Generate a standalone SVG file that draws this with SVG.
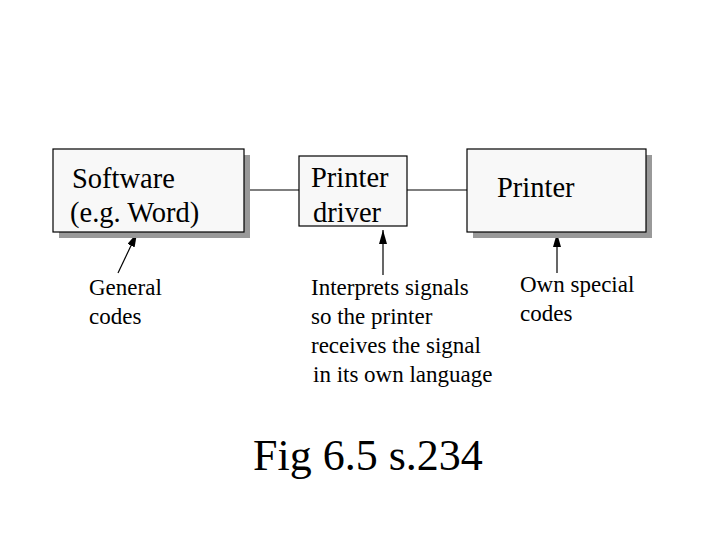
<svg xmlns="http://www.w3.org/2000/svg" width="720" height="540" viewBox="0 0 720 540">
<style>
.box{fill:#f8f8f8;stroke:#000;stroke-width:1.2}
.shadow{fill:#999}
.t{font-family:"Liberation Serif","Times New Roman",serif;fill:#000}
.big{font-size:28.5px}
.lab{font-size:23px}
.line{stroke:#000;stroke-width:1.2;fill:none}
</style>
<defs>
<marker id="ah" viewBox="0 0 14 8" refX="14" refY="4" markerWidth="14" markerHeight="8" markerUnits="userSpaceOnUse" orient="auto">
<path d="M0,0 L14,4 L0,8 Z" fill="#000"/>
</marker>
</defs>
<rect width="720" height="540" fill="#fff"/>
<g id="connectors">
<line class="line" x1="244" y1="190" x2="299" y2="190"/>
<line class="line" x1="407" y1="190" x2="467" y2="190"/>
<line class="line" x1="118" y1="273" x2="137" y2="233" marker-end="url(#ah)"/>
<line class="line" x1="383" y1="275" x2="383" y2="230" marker-end="url(#ah)"/>
<line class="line" x1="557" y1="273" x2="557" y2="233" marker-end="url(#ah)"/>
</g>
<g id="software">
<rect class="shadow" x="59" y="155" width="191" height="83"/>
<rect class="box" x="53" y="149" width="191" height="83"/>
<text class="t big" x="72" y="188">Software</text>
<text class="t big" x="70" y="222">(e.g. Word)</text>
</g>
<g id="driver">
<rect class="box" x="299" y="156" width="108" height="70"/>
<text class="t big" x="311" y="187">Printer</text>
<text class="t big" x="313" y="222">driver</text>
</g>
<g id="printer">
<rect class="shadow" x="473" y="155" width="179" height="83"/>
<rect class="box" x="467" y="149" width="179" height="83"/>
<text class="t big" x="497" y="197">Printer</text>
</g>
<g id="general">
<text class="t lab" x="89" y="295">General</text>
<text class="t lab" x="89" y="324">codes</text>
</g>
<g id="interprets">
<text class="t lab" x="311" y="295">Interprets signals</text>
<text class="t lab" x="311" y="324">so the printer</text>
<text class="t lab" x="311" y="353">receives the signal</text>
<text class="t lab" x="313" y="382">in its own language</text>
</g>
<g id="ownspecial">
<text class="t lab" x="520" y="292">Own special</text>
<text class="t lab" x="520" y="321">codes</text>
</g>
<text class="t" x="253" y="470" font-size="44">Fig 6.5 s.234</text>
</svg>
